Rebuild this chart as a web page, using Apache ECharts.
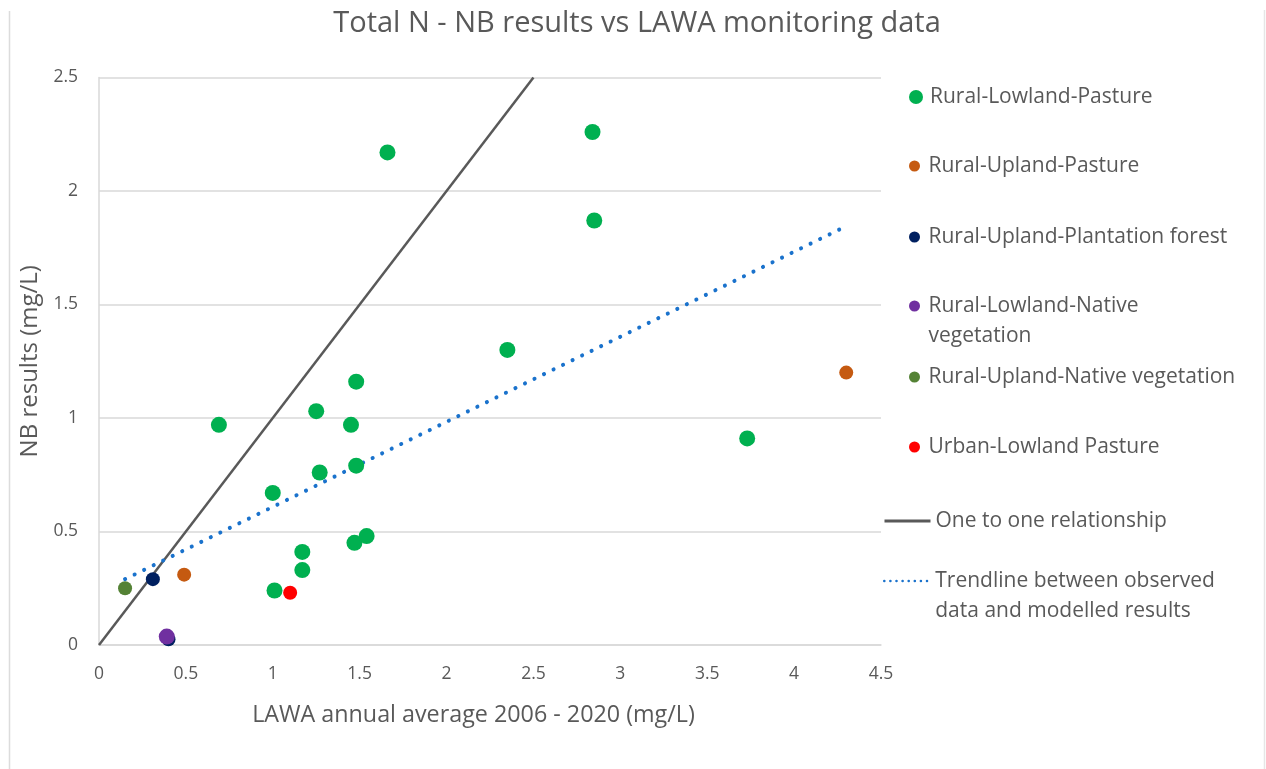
<!DOCTYPE html>
<html>
<head>
<meta charset="utf-8">
<title>Total N - NB results vs LAWA monitoring data</title>
<script src="https://cdn.jsdelivr.net/npm/echarts@6/dist/echarts.min.js"></script>
<style>
  html, body { margin: 0; padding: 0; background: #ffffff; }
  #chart { width: 1266px; height: 769px; }
</style>
</head>
<body>
<div id="chart"></div>
<script>
// LAWA annual average (x) vs NB modelled result (y), mg/L, per land-use class
const lowlandPastureX = [0.69, 1.00, 1.01, 1.17, 1.17, 1.25, 1.27, 1.45, 1.48, 1.47, 1.54, 1.48, 1.66, 2.35, 2.84, 2.85, 3.73];
const lowlandPastureY = [0.97, 0.67, 0.24, 0.41, 0.33, 1.03, 0.76, 0.97, 0.79, 0.45, 0.48, 1.16, 2.17, 1.30, 2.26, 1.87, 0.91];
const uplandPastureX = [0.49, 4.30];
const uplandPastureY = [0.31, 1.20];
const uplandPlantationX = [0.31, 0.40];
const uplandPlantationY = [0.29, 0.025];
const lowlandNativeX = [0.39];
const lowlandNativeY = [0.037];
const uplandNativeX = [0.15];
const uplandNativeY = [0.25];
const urbanPastureX = [1.10];
const urbanPastureY = [0.23];

// Reference lines
const oneToOneX = [0, 2.5];
const oneToOneY = [0, 2.5];
const trendX = [0.15, 4.30];
const trendY = [0.29, 1.845];

const seriesNames = [
  'Rural-Lowland-Pasture',
  'Rural-Upland-Pasture',
  'Rural-Upland-Plantation forest',
  'Rural-Lowland-Native vegetation',
  'Rural-Upland-Native vegetation',
  'Urban-Lowland Pasture',
  'One to one relationship',
  'Trendline between observed data and modelled results'
];

const pairs = (xs, ys) => xs.map((x, i) => [x, ys[i]]);

const TEXT = '#595959';
const FONT = 'Open Sans';

const scatterDefs = [
  { x: lowlandPastureX, y: lowlandPastureY, color: '#00B050', size: 16 },
  { x: uplandPastureX, y: uplandPastureY, color: '#C55A11', size: 14 },
  { x: uplandPlantationX, y: uplandPlantationY, color: '#002060', size: 14 },
  { x: lowlandNativeX, y: lowlandNativeY, color: '#7030A0', size: 16 },
  { x: uplandNativeX, y: uplandNativeY, color: '#548235', size: 14 },
  { x: urbanPastureX, y: urbanPastureY, color: '#FF0000', size: 14 }
];

const series = scatterDefs.map((d, i) => ({
  name: seriesNames[i],
  type: 'scatter',
  data: pairs(d.x, d.y),
  symbol: 'circle',
  symbolSize: d.size,
  itemStyle: { color: d.color, opacity: 1 },
  z: 5
}));

series.push({
  name: seriesNames[6],
  type: 'line',
  data: pairs(oneToOneX, oneToOneY),
  symbol: 'none',
  lineStyle: { color: '#595959', width: 2.5 },
  itemStyle: { color: '#595959' },
  z: 2
});

series.push({
  name: seriesNames[7],
  type: 'line',
  data: pairs(trendX, trendY),
  symbol: 'none',
  lineStyle: { color: '#1A72CC', width: 4, type: [0.1, 10.5], cap: 'round' },
  itemStyle: { color: '#1A72CC' },
  z: 3
});

// One legend block per entry so each row sits at its own height.
// Wrapped labels start with an empty line so the icon lines up with the first text line.
const legendRows = [
  { name: seriesNames[0], label: 'Rural-Lowland-Pasture', top: 77, w: 18, h: 14, left: 904 },
  { name: seriesNames[1], label: 'Rural-Upland-Pasture', top: 146, w: 18, h: 11, left: 904 },
  { name: seriesNames[2], label: 'Rural-Upland-Plantation forest', top: 217, w: 18, h: 11, left: 904 },
  { name: seriesNames[3], label: '\nRural-Lowland-Native\nvegetation', top: 256, w: 18, h: 11, left: 904 },
  { name: seriesNames[4], label: 'Rural-Upland-Native vegetation', top: 357, w: 18, h: 11, left: 904 },
  { name: seriesNames[5], label: 'Urban-Lowland Pasture', top: 427, w: 18, h: 11, left: 904 },
  { name: seriesNames[6], label: 'One to one relationship', top: 501, w: 46, h: 10, left: 878, line: { type: 'solid', width: 3, cap: 'butt' } },
  { name: seriesNames[7], label: '\nTrendline between observed\ndata and modelled results', top: 531, w: 46, h: 10, left: 878, line: { type: [0.1, 6], width: 2.5, cap: 'round' } }
];

const legends = legendRows.map(r => {
  const lg = {
    data: [r.name],
    left: r.left,
    top: r.top,
    orient: 'vertical',
    itemWidth: r.w,
    itemHeight: r.h,
    selectedMode: false,
    formatter: () => r.label,
    textStyle: {
      color: TEXT,
      fontFamily: FONT,
      fontSize: 21,
      lineHeight: 30
    }
  };
  if (r.line) {
    lg.lineStyle = r.line;
    lg.itemStyle = { color: 'rgba(0,0,0,0)', borderWidth: 0, opacity: 0 };
  } else {
    lg.icon = 'circle';
  }
  return lg;
});

const option = {
  backgroundColor: '#ffffff',
  animation: false,
  textStyle: { fontFamily: FONT },
  title: {
    text: 'Total N - NB results vs LAWA monitoring data',
    left: 632,
    textAlign: 'center',
    top: 4,
    textStyle: { color: TEXT, fontFamily: FONT, fontSize: 29, fontWeight: 'normal' }
  },
  legend: legends,
  grid: { left: 99, right: 385, top: 77.5, bottom: 124, containLabel: false },
  xAxis: {
    type: 'value',
    min: 0,
    max: 4.5,
    interval: 0.5,
    name: 'LAWA annual average 2006 - 2020 (mg/L)',
    nameLocation: 'middle',
    nameGap: 59,
    nameTextStyle: { color: TEXT, fontFamily: FONT, fontSize: 23.3, padding: [0, 33, 0, 0] },
    axisLine: { show: true, onZero: false, lineStyle: { color: '#d9d9d9', width: 1.5 } },
    axisTick: { show: false },
    axisLabel: { color: TEXT, fontFamily: FONT, fontSize: 17.5, margin: 20 },
    splitLine: { show: false }
  },
  yAxis: {
    type: 'value',
    min: 0,
    max: 2.5,
    interval: 0.5,
    name: 'NB results (mg/L)',
    nameLocation: 'middle',
    nameGap: 57,
    nameTextStyle: { color: TEXT, fontFamily: FONT, fontSize: 24 },
    axisLine: { show: true, lineStyle: { color: '#d9d9d9', width: 1.5 } },
    axisTick: { show: false },
    axisLabel: { color: TEXT, fontFamily: FONT, fontSize: 17.5, margin: 21 },
    splitLine: { show: true, lineStyle: { color: '#d9d9d9', width: 1.5 } }
  },
  graphic: [
    { type: 'line', shape: { x1: 9.5, y1: 11, x2: 9.5, y2: 769 }, style: { stroke: '#dcdcdc', lineWidth: 1.5 }, silent: true },
    { type: 'line', shape: { x1: 1264.5, y1: 10, x2: 1264.5, y2: 769 }, style: { stroke: '#e6e6e6', lineWidth: 1.5 }, silent: true }
  ],
  series: series
};

const chart = echarts.init(document.getElementById('chart'), null, { renderer: 'canvas' });
chart.setOption(option);
</script>
</body>
</html>
